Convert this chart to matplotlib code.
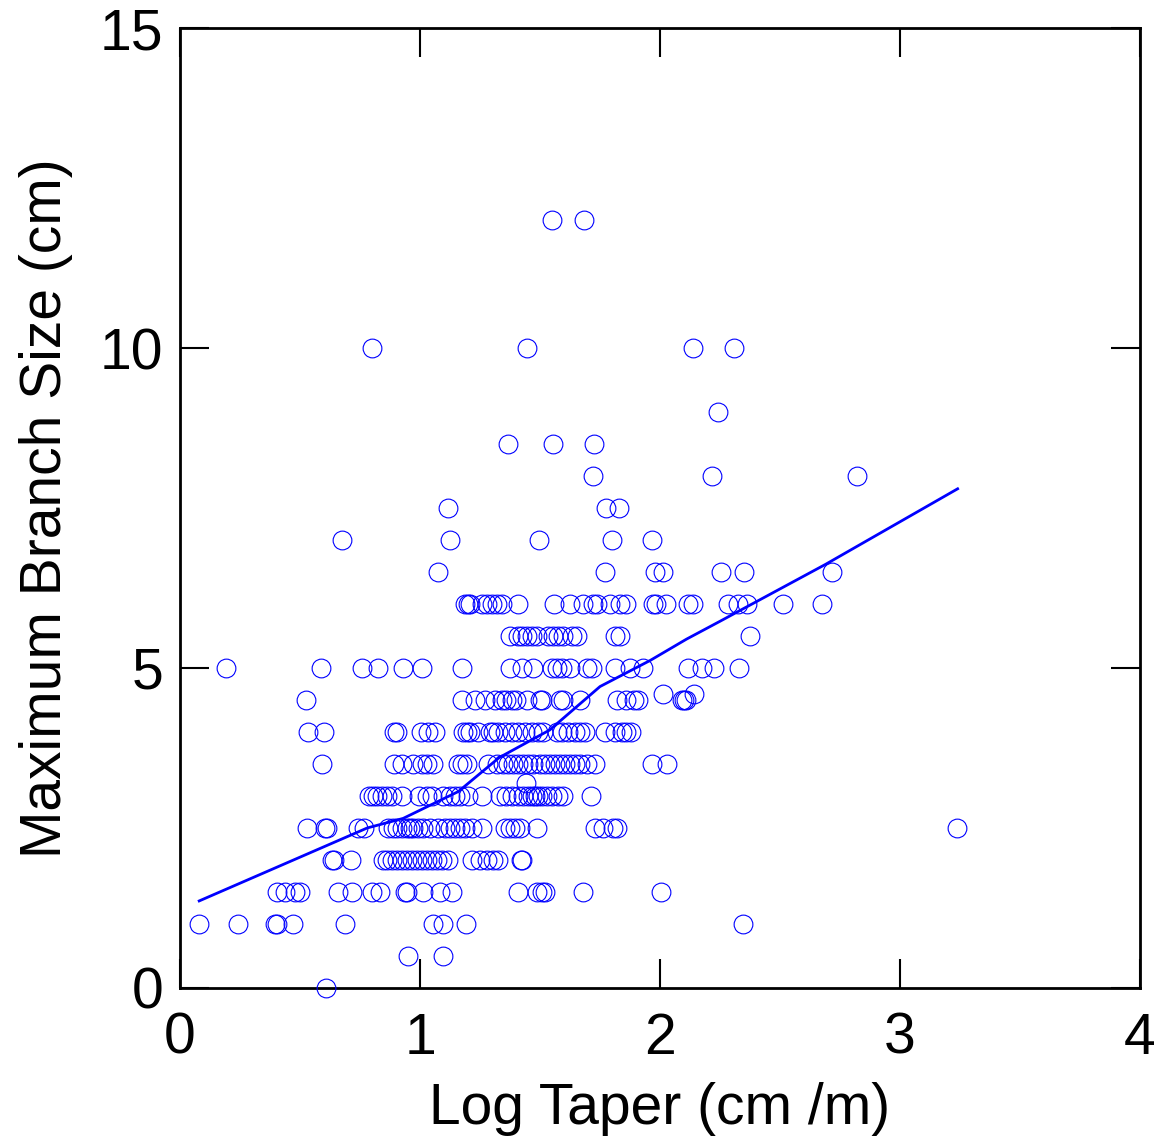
import matplotlib
matplotlib.use("Agg")
import matplotlib.pyplot as plt

plt.rcParams['font.family'] = ['Liberation Sans', 'DejaVu Sans']

# Log taper values (cm/m) observed at each maximum branch size (cm)
taper_0_0 = [0.608]
taper_0_5 = [0.948, 1.097]
taper_1_0 = [0.08, 0.24, 0.396, 0.406, 0.472, 0.6875, 1.055, 1.097, 1.19, 2.345]
taper_1_5 = [0.406, 0.4375, 0.479, 0.5, 0.66, 0.715, 0.8, 0.833, 0.9375, 0.944,
             1.014, 1.083, 1.132, 1.41, 1.486, 1.507, 1.52, 1.68, 2.003]
taper_2_0 = [0.635, 0.642, 0.711, 0.847, 0.861, 0.882, 0.903, 0.924, 0.944, 0.965,
             0.986, 1.007, 1.028, 1.049, 1.07, 1.09, 1.118, 1.215, 1.25, 1.278,
             1.306, 1.326, 1.42, 1.424]
taper_2_5 = [0.528, 0.604, 0.611, 0.743, 0.767, 0.868, 0.889, 0.903, 0.924, 0.944,
             0.958, 0.972, 0.993, 1.014, 1.042, 1.076, 1.104, 1.125, 1.146, 1.167,
             1.1875, 1.215, 1.257, 1.354, 1.375, 1.396, 1.417, 1.486, 1.73, 1.764,
             1.806, 1.82, 3.236]
taper_3_0 = [0.789, 0.806, 0.822, 0.84, 0.861, 0.882, 0.924, 0.997, 1.03, 1.049,
             1.097, 1.125, 1.146, 1.167, 1.20, 1.26, 1.333, 1.36, 1.382, 1.41,
             1.43, 1.45, 1.465, 1.48, 1.493, 1.507, 1.53, 1.55, 1.576, 1.597, 1.712]
taper_3_2 = [1.442]
taper_3_5 = [0.59, 0.893, 0.924, 0.972, 1.01, 1.03, 1.056, 1.16, 1.174, 1.194,
             1.285, 1.32, 1.347, 1.368, 1.389, 1.41, 1.43, 1.45, 1.472, 1.5,
             1.52, 1.54, 1.5625, 1.583, 1.604, 1.625, 1.646, 1.667, 1.694, 1.729,
             1.967, 2.028]
taper_4_0 = [0.535, 0.6, 0.893, 0.903, 1.003, 1.035, 1.0625, 1.18, 1.194, 1.208,
             1.243, 1.29, 1.306, 1.326, 1.354, 1.382, 1.41, 1.4375, 1.465, 1.493,
             1.514, 1.569, 1.59, 1.618, 1.646, 1.667, 1.6875, 1.77, 1.8125, 1.84,
             1.86, 1.88]
taper_4_5 = [0.525, 1.174, 1.229, 1.27, 1.3125, 1.34, 1.36, 1.382, 1.40, 1.444,
             1.5, 1.507, 1.583, 1.597, 1.667, 1.82, 1.86, 1.89, 1.91, 2.09, 2.10, 2.11]
taper_4_6 = [2.014, 2.142]
taper_5_0 = [0.192, 0.586, 0.757, 0.826, 0.931, 1.007, 1.174, 1.375, 1.424, 1.472,
             1.549, 1.569, 1.59, 1.625, 1.694, 1.715, 1.8125, 1.875, 1.93, 2.118,
             2.174, 2.225, 2.329]
taper_5_5 = [1.375, 1.41, 1.424, 1.444, 1.465, 1.486, 1.535, 1.556, 1.576, 1.597,
             1.632, 1.653, 1.8125, 1.833, 2.375]
taper_6_0 = [1.1875, 1.20, 1.208, 1.257, 1.278, 1.30, 1.32, 1.34, 1.41, 1.558,
             1.625, 1.68, 1.72, 1.736, 1.79, 1.833, 1.86, 1.972, 1.983, 2.024,
             2.118, 2.139, 2.285, 2.326, 2.364, 2.511, 2.676]
taper_6_5 = [1.075, 1.77, 1.979, 2.011, 2.254, 2.35, 2.715]
taper_7_0 = [0.675, 1.125, 1.496, 1.80, 1.965]
taper_7_5 = [1.117, 1.775, 1.829]
taper_8_0 = [1.721, 2.218, 2.82]
taper_8_5 = [1.367, 1.554, 1.725]
taper_9_0 = [2.243]
taper_10_0 = [0.80, 1.446, 2.137, 2.31]
taper_12_0 = [1.55, 1.683]

rows = [(0.0, taper_0_0), (0.5, taper_0_5), (1.0, taper_1_0), (1.5, taper_1_5),
        (2.0, taper_2_0), (2.5, taper_2_5), (3.0, taper_3_0), (3.2, taper_3_2),
        (3.5, taper_3_5), (4.0, taper_4_0), (4.5, taper_4_5), (4.6, taper_4_6),
        (5.0, taper_5_0), (5.5, taper_5_5), (6.0, taper_6_0), (6.5, taper_6_5),
        (7.0, taper_7_0), (7.5, taper_7_5), (8.0, taper_8_0), (8.5, taper_8_5),
        (9.0, taper_9_0), (10.0, taper_10_0), (12.0, taper_12_0)]

# Smoothed trend line
trend_x = [0.08, 0.78, 0.93, 1.16, 1.33, 1.54, 1.75, 1.96, 2.11, 2.25, 2.69, 3.24]
trend_y = [1.36, 2.50, 2.65, 3.07, 3.60, 4.03, 4.71, 5.12, 5.45, 5.73, 6.62, 7.80]

xs, ys = [], []
for size, tapers in rows:
    for t in tapers:
        xs.append(t)
        ys.append(size)

fig = plt.figure(figsize=(11.56, 11.39), dpi=100)
ax = fig.add_axes([0.1557, 0.1326, 0.8305, 0.8428])

ax.plot(xs, ys, linestyle='none', marker='o', markersize=13.5,
        markerfacecolor='none', markeredgecolor='#0000ff', markeredgewidth=0.8,
        clip_on=False, zorder=3)
ax.plot(trend_x, trend_y, color='#0000ff', linewidth=2.0, zorder=4)

ax.set_xlim(0, 4)
ax.set_ylim(0, 15)
ax.set_xticks([0, 1, 2, 3, 4])
ax.set_yticks([0, 5, 10, 15])
ax.tick_params(direction='in', length=21, width=1.5, labelsize=41, pad=12,
               top=True, right=True)
ax.tick_params(axis='x', pad=17)
for s in ax.spines.values():
    s.set_linewidth(2.0)

ax.set_xlabel('Log Taper (cm /m)', fontsize=41, labelpad=12)
ax.set_ylabel('Maximum Branch Size (cm)', fontsize=41, labelpad=19)

fig.savefig('out.png', dpi=100)
